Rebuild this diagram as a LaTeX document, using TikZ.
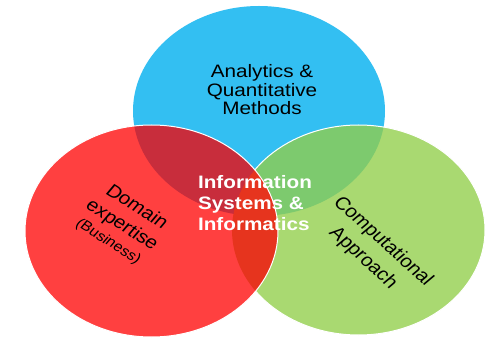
\documentclass[tikz,border=0pt]{standalone}
\usepackage{fontspec}
\setmainfont{Liberation Sans}

\definecolor{vblue}{RGB}{51,191,242}
\definecolor{vred}{RGB}{255,64,64}
\definecolor{vgreen}{RGB}{169,217,113}
\definecolor{vbluered}{RGB}{200,45,60}
\definecolor{vbluegreen}{RGB}{125,202,110}
\definecolor{vredgreen}{RGB}{230,52,30}

\newcommand{\blueset}{(259,111) ellipse [x radius=126pt, y radius=105pt]}
\newcommand{\redset}{(151.5,231) ellipse [x radius=126.5pt, y radius=106pt]}
\newcommand{\greenset}{(358.5,230) ellipse [x radius=126.5pt, y radius=105pt]}

\begin{document}
\begin{tikzpicture}[x=1pt, y=-1pt,
	venntext/.style={xscale=1.15, align=center, font=\fontsize{18}{21}\selectfont}]
		\useasboundingbox[fill=white] (0,0) rectangle (487,339);

		% Analytics circle
		\fill[vblue] \blueset;

		% Computational circle
		\fill[vgreen] \greenset;
		\begin{scope}
			\clip \blueset;
			\fill[vbluegreen] \greenset;
		\end{scope}
		\draw[white, line width=1pt] \greenset;

		% Domain circle
		\fill[vred] \redset;
		\begin{scope}
			\clip \blueset;
			\fill[vbluered] \redset;
		\end{scope}
		\begin{scope}
			\clip \greenset;
			\fill[vredgreen] \redset;
		\end{scope}
		\draw[white, line width=1pt] \redset;

		% Labels
		\node[venntext, font=\fontsize{18}{18.5}\selectfont] (analytics) at (262,90)
			{Analytics \&\\Quantitative\\Methods};
		\node[venntext, rotate=-36, font=\fontsize{18}{22}\selectfont] (domain) at (123,224)
			{Domain\\expertise\\[-3pt]{\fontsize{14}{16}\selectfont (Business)}};
		\node[venntext, rotate=-46, font=\fontsize{18}{24}\selectfont] (computational) at (373,250)
			{Computational\\Approach};
		\node[venntext, align=left, text=white, font=\bfseries\fontsize{18}{21}\selectfont] (info) at (255,203)
			{Information\\Systems \&\\Informatics};
	\end{tikzpicture}
\end{document}
